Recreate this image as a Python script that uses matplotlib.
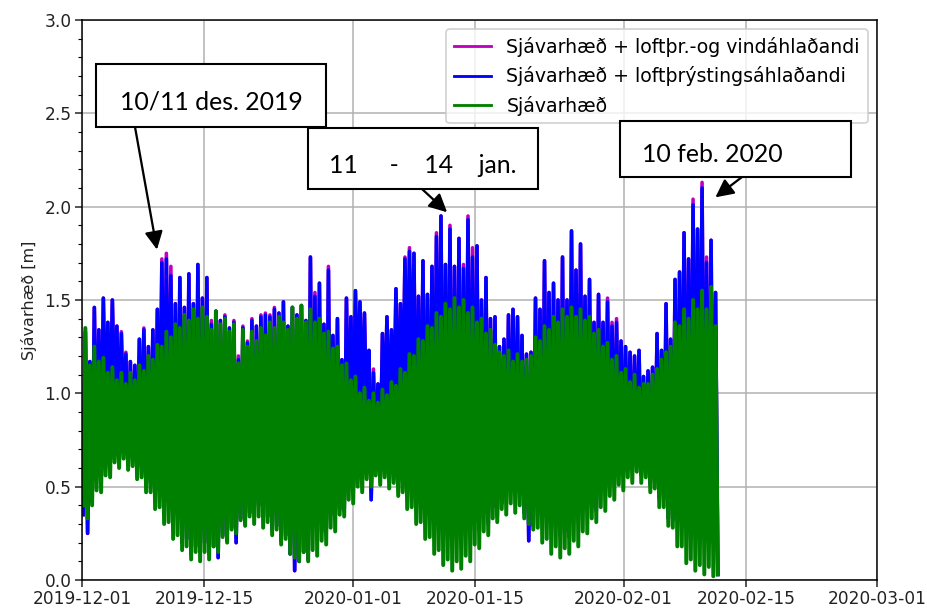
import matplotlib
matplotlib.use("Agg")
import matplotlib.pyplot as plt
import matplotlib.dates as mdates
from matplotlib.ticker import MultipleLocator
from matplotlib.patches import Rectangle
import numpy as np
import pandas as pd

# Astronomical tide [m]: high water levels, one per tide
hw_astro = [1.35, 1.15, 1.25, 1.17, 1.19, 1.11, 1.14, 1.07, 1.11, 1.05,
            1.11, 1.07, 1.15, 1.12, 1.20, 1.18, 1.26, 1.25, 1.33, 1.30,
            1.37, 1.35, 1.42, 1.39, 1.45, 1.40, 1.46, 1.41, 1.34, 1.44,
            1.37, 1.40, 1.33, 1.37, 1.16, 1.34, 1.25, 1.33, 1.28, 1.35,
            1.31, 1.38, 1.35, 1.41, 1.38, 1.34, 1.46, 1.40, 1.47, 1.38,
            1.45, 1.38, 1.40, 1.32, 1.33, 1.24, 1.25, 1.15, 1.16, 1.07,
            1.09, 1.00, 1.03, 0.96, 1.00, 0.95, 1.02, 0.99, 1.06, 1.04,
            1.13, 1.11, 1.21, 1.20, 1.29, 1.28, 1.36, 1.35, 1.43, 1.41,
            1.48, 1.45, 1.51, 1.46, 1.50, 1.43, 1.46, 1.38, 1.40, 1.32,
            1.34, 1.26, 1.22, 1.20, 1.23, 1.17, 1.21, 1.17, 1.18, 1.20,
            1.30, 1.28, 1.36, 1.34, 1.41, 1.38, 1.45, 1.41, 1.46, 1.41,
            1.45, 1.39, 1.41, 1.32, 1.34, 1.25, 1.27, 1.18, 1.20, 1.11,
            1.13, 1.06, 1.10, 1.03, 1.05, 1.05, 1.10, 1.13, 1.18, 1.22,
            1.25, 1.38, 1.36, 1.45, 1.40, 1.50, 1.45, 1.55, 1.45, 1.57,
            1.36]

# Astronomical tide [m]: low water before each high water, plus the closing low
lw_astro = [0.40, 0.33, 0.40, 0.48, 0.47, 0.56, 0.55, 0.63, 0.60, 0.65,
            0.59, 0.61, 0.54, 0.55, 0.47, 0.47, 0.38, 0.39, 0.30, 0.31,
            0.22, 0.24, 0.16, 0.18, 0.11, 0.15, 0.10, 0.15, 0.11, 0.18,
            0.15, 0.23, 0.20, 0.27, 0.25, 0.32, 0.29, 0.34, 0.30, 0.34,
            0.28, 0.31, 0.24, 0.27, 0.19, 0.22, 0.14, 0.12, 0.10, 0.15,
            0.10, 0.16, 0.13, 0.21, 0.19, 0.28, 0.26, 0.35, 0.34, 0.43,
            0.41, 0.50, 0.47, 0.54, 0.50, 0.56, 0.51, 0.55, 0.49, 0.52,
            0.45, 0.47, 0.38, 0.39, 0.30, 0.31, 0.22, 0.23, 0.14, 0.16,
            0.08, 0.11, 0.05, 0.10, 0.06, 0.13, 0.10, 0.19, 0.17, 0.26,
            0.24, 0.33, 0.31, 0.38, 0.35, 0.41, 0.36, 0.40, 0.33, 0.30,
            0.27, 0.28, 0.20, 0.22, 0.14, 0.18, 0.12, 0.17, 0.14, 0.21,
            0.18, 0.26, 0.25, 0.33, 0.31, 0.39, 0.37, 0.45, 0.43, 0.51,
            0.48, 0.55, 0.52, 0.58, 0.52, 0.55, 0.47, 0.49, 0.39, 0.39,
            0.29, 0.28, 0.18, 0.18, 0.09, 0.11, 0.05, 0.08, 0.03, 0.07,
            0.02, 0.03]

# Air-pressure (inverse barometer) contribution at each high water [m]
baro_hw = [-0.02, 0.02, 0.21, 0.17, 0.32, 0.27, 0.36, 0.29, 0.21, 0.16,
           0.06, 0.08, 0.14, 0.22, 0.05, 0.16, 0.19, 0.45, 0.39, 0.33,
           0.11, 0.27, 0.04, 0.25, 0.03, 0.29, 0.05, 0.21, 0.03, 0.00,
           0.02, 0.01, 0.02, 0.01, 0.02, 0.01, 0.02, 0.06, 0.08, 0.06,
           0.11, 0.03, 0.10, 0.02, 0.11, 0.02, 0.00, 0.02, 0.00, 0.01,
           0.28, 0.14, 0.19, 0.05, 0.33, 0.07, 0.15, 0.03, 0.35, 0.34,
           0.46, 0.49, 0.40, 0.27, 0.11, 0.10, 0.30, 0.42, 0.28, 0.52,
           0.35, 0.61, 0.55, 0.55, 0.23, 0.43, 0.17, 0.33, 0.41, 0.54,
           0.21, 0.43, 0.17, 0.37, 0.17, 0.50, 0.27, 0.41, 0.10, 0.30,
           0.06, 0.15, 0.03, 0.09, 0.19, 0.28, 0.20, 0.14, 0.03, 0.02,
           0.21, 0.17, 0.35, 0.20, 0.18, 0.12, 0.28, 0.09, 0.41, 0.25,
           0.35, 0.13, 0.20, 0.06, 0.19, 0.13, 0.22, 0.18, 0.18, 0.17,
           0.12, 0.16, 0.10, 0.20, 0.04, 0.07, 0.04, 0.19, 0.05, 0.26,
           0.04, 0.23, 0.29, 0.41, 0.32, 0.51, 0.43, 0.55, 0.25, 0.25,
           0.18]

# Air-pressure contribution at each low water [m]
baro_lw = [-0.05, -0.08, 0.02, 0.17, 0.17, 0.27, 0.27, 0.29, 0.21, 0.16,
           0.06, 0.06, 0.08, 0.14, 0.05, 0.05, 0.16, 0.19, 0.39, 0.33,
           0.11, 0.11, 0.04, 0.04, 0.03, 0.03, 0.05, 0.05, 0.03, 0.00,
           -0.03, 0.01, 0.01, 0.01, -0.05, 0.01, 0.01, 0.02, 0.06, 0.06,
           0.06, 0.03, 0.03, 0.02, 0.02, 0.02, 0.00, -0.07, 0.00, 0.00,
           0.01, 0.14, 0.14, 0.05, 0.05, 0.07, 0.07, 0.03, 0.03, 0.34,
           0.34, 0.46, 0.40, 0.27, -0.07, 0.10, 0.10, 0.30, 0.28, 0.28,
           0.35, 0.35, 0.55, 0.55, 0.23, 0.23, 0.17, 0.17, 0.33, 0.41,
           0.21, 0.21, 0.17, 0.17, 0.17, 0.17, 0.27, 0.27, 0.10, 0.10,
           0.06, 0.06, 0.03, 0.03, 0.09, 0.19, 0.20, 0.14, 0.03, -0.09,
           0.02, 0.17, 0.17, 0.20, 0.18, 0.12, 0.12, 0.09, 0.09, 0.25,
           0.25, 0.13, 0.13, 0.06, 0.06, 0.13, 0.13, 0.18, 0.18, 0.17,
           0.12, 0.12, 0.10, 0.10, 0.04, 0.04, 0.04, 0.04, 0.05, 0.05,
           0.04, 0.04, 0.23, 0.29, 0.32, 0.32, 0.43, 0.43, 0.25, 0.25,
           0.18, 0.00]

# Extra wind set-up on top of the pressure effect, at high water [m]
wind_hw = {8: 0.01, 9: 0.01, 13: 0.01, 17: 0.02, 18: 0.03, 19: 0.05, 28: 0.02,
           31: 0.01, 33: 0.01, 34: 0.02, 35: 0.01, 36: 0.01, 37: 0.01, 39: 0.01,
           40: 0.01, 41: 0.01, 42: 0.01, 51: 0.02, 54: 0.02, 64: 0.02, 71: 0.01,
           72: 0.02, 78: 0.02, 81: 0.02, 84: 0.02, 85: 0.02, 86: 0.05, 116: 0.02,
           117: 0.02, 118: 0.02, 135: 0.03, 137: 0.03, 138: 0.03}

series_labels = ["Sjávarhæð + loftþr.-og vindáhlaðandi",
                 "Sjávarhæð + loftþrýstingsáhlaðandi",
                 "Sjávarhæð"]
series_colors = ["m", "b", "g"]
series_widths = [1.9, 1.9, 2.1]
tick_dates = ["2019-12-01", "2019-12-15", "2020-01-01", "2020-01-15",
              "2020-02-01", "2020-02-15", "2020-03-01"]
notes = ["10/11 des. 2019", "11     -    14    jan.", "10 feb. 2020"]
note_targets = [("2019-12-09 14:00", 1.77), ("2020-01-11 19:00", 1.97),
                ("2020-02-11 12:00", 2.05)]

# Build the half-tide time series: low, high, low, high, ..., low
n_pts = len(lw_astro) + len(hw_astro)
times = pd.date_range("2019-12-01 03:00", periods=n_pts, freq="6h11min")

astro = np.empty(n_pts)
astro[0::2] = lw_astro
astro[1::2] = hw_astro

baro = np.empty(n_pts)
baro[0::2] = baro_lw
baro[1::2] = baro_hw

wind = np.zeros(n_pts)
for k, v in wind_hw.items():
    wind[2 * k + 1] = v

pressure = astro + baro
pressure_wind = pressure + wind

W, H, DPI = 927, 610, 136
fig = plt.figure(figsize=(W / DPI, H / DPI), dpi=DPI)
ax = fig.add_axes([82 / W, 1 - 580 / H, (877 - 82) / W, (580 - 20) / H])

for vals, col, lab, lw in zip([pressure_wind, pressure, astro], series_colors,
                              series_labels, series_widths):
    ax.plot(times, vals, color=col, lw=lw, label=lab)

ax.set_xlim(pd.Timestamp(tick_dates[0]), pd.Timestamp(tick_dates[-1]))
ax.set_ylim(0, 3.0)
ax.set_xticks([pd.Timestamp(d) for d in tick_dates])
ax.xaxis.set_major_formatter(mdates.DateFormatter("%Y-%m-%d"))
ax.yaxis.set_major_locator(MultipleLocator(0.5))
ax.yaxis.set_minor_locator(MultipleLocator(0.1))
ax.tick_params(axis="both", which="major", labelsize=9.0, pad=2, colors="#222222")
ax.grid(True, which="major", color="#b0b0b0", lw=0.8)
ax.set_ylabel("Sjávarhæð [m]", fontsize=8.5, color="#222222")
leg = ax.legend(loc="upper right", fontsize=10)
for h in leg.legend_handles:
    h.set_linewidth(1.5)

# Callout boxes (figure pixel layout) with arrows to the events
def fig_box(x0, y0, x1, y1):
    fig.add_artist(Rectangle((x0 / W, 1 - y1 / H), (x1 - x0) / W, (y1 - y0) / H,
                             transform=fig.transFigure, facecolor="white",
                             edgecolor="black", lw=1.1, zorder=10))

box_px = [(96, 64, 326, 127), (308, 128, 538, 189), (620, 121, 851, 177)]
text_px = [(211, 110, "center"), (423, 173, "center"), (642, 162, "left")]
arrow_from = [(135, 127), (422, 189), (742, 177)]

for (bx, tx, af, note, tgt) in zip(box_px, text_px, arrow_from, notes, note_targets):
    fig_box(*bx)
    fig.text(tx[0] / W, 1 - tx[1] / H, note, ha=tx[2], va="baseline",
             fontsize=13.2, family=["Lato", "DejaVu Sans"], zorder=11)
    ax.annotate("", xy=(pd.Timestamp(tgt[0]), tgt[1]), xycoords="data",
                xytext=(af[0], H - af[1]), textcoords="figure pixels",
                arrowprops=dict(arrowstyle="-|>", color="black", lw=1.2,
                                mutation_scale=20, shrinkA=0, shrinkB=0),
                annotation_clip=False, zorder=12)

fig.savefig("out.png", dpi=DPI, facecolor="white")
